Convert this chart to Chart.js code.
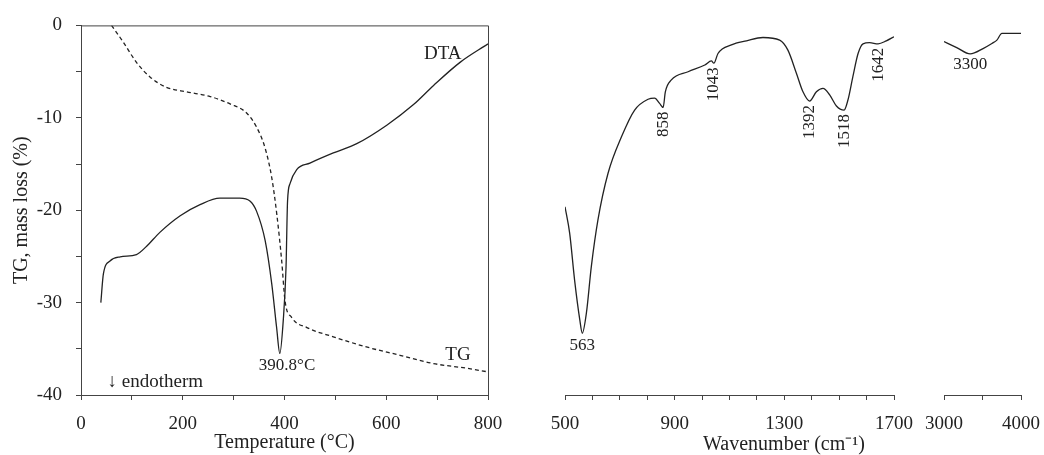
<!DOCTYPE html>
<html>
<head>
<meta charset="utf-8">
<script src="https://cdn.jsdelivr.net/npm/chart.js@4"></script>
<style>
  body { margin: 0; background: #fff; }
  #wrap { position: relative; width: 1044px; height: 455px; overflow: hidden; }
  canvas { position: absolute; top: 0; }
  #wnTitle {
    position: absolute; left: 784px; top: 443px; transform: translate(-50%, -50%);
    font: 20px "Liberation Serif", serif; line-height: 22px; color: #222; white-space: nowrap;
  }
</style>
</head>
<body>
<div id="wrap">
  <canvas id="tga" width="520" height="455" style="left:0"></canvas>
  <canvas id="ir1" width="410" height="455" style="left:520px"></canvas>
  <canvas id="ir2" width="124" height="455" style="left:920px"></canvas>
  <div id="wnTitle">Wavenumber (cm⁻¹)</div>
</div>
<script>
// TG / DTA
const tempDTA = [39, 44, 57, 77, 109, 129, 155, 195, 234, 273, 312, 332, 345, 362, 375, 384.5, 390.8, 397.6, 403, 406, 411, 424, 450, 496, 542, 601, 653, 693, 745, 800];
const dta     = [-30, -26.9, -25.5, -25.05, -24.8, -23.9, -22.4, -20.6, -19.4, -18.7, -18.7, -19.0, -20.1, -23.3, -28.0, -32.7, -35.5, -31.9, -26.2, -19.0, -17.1, -15.6, -14.9, -13.8, -12.8, -10.8, -8.6, -6.5, -4.0, -2.0];
const tempTG  = [60, 83, 109, 136, 168, 208, 254, 293, 326, 345, 362, 375, 385, 394.5, 401, 414, 444, 496, 561, 627, 693, 758, 800];
const tg      = [0, -1.8, -4.0, -5.6, -6.7, -7.2, -7.7, -8.5, -9.5, -11.0, -13.3, -16.5, -20.5, -25.5, -29.8, -31.6, -32.7, -33.7, -34.8, -35.7, -36.6, -37.1, -37.5];

// FTIR, 500-1700 cm-1
const wn1 = [500, 517, 535, 554, 563, 578, 596, 620, 657, 706, 754, 803, 827, 845, 858, 866, 888, 949, 1010, 1034, 1043, 1058, 1107, 1162, 1222, 1283, 1313, 1344, 1368, 1392, 1417, 1441, 1466, 1490, 1518, 1532, 1550, 1569, 1587, 1611, 1642, 1672, 1700];
const tr1 = [50.6, 43.5, 30.9, 20.2, 16.6, 22.0, 34.5, 47.0, 59.6, 69.4, 76.6, 79.5, 79.8, 78.4, 77.3, 81.5, 84.7, 86.9, 88.7, 89.8, 89.2, 91.8, 94.1, 95.2, 96.1, 95.4, 92.7, 86.5, 81.5, 79.0, 81.5, 82.4, 80.6, 77.7, 76.6, 79.3, 85.6, 91.8, 94.4, 94.7, 94.4, 95.2, 96.3];
// FTIR, 3000-4000 cm-1
const wn2 = [3000, 3165, 3340, 3513, 3622, 3687, 3752, 4000];
const tr2 = [95.0, 93.4, 91.7, 93.2, 94.5, 95.4, 97.2, 97.2];

const peaks1 = [563, 858, 1043, 1392, 1518, 1642];
const peaks1Rotated = [false, true, true, true, true, true];
const peak2At = 3340, peak2Text = '3300';

const FONT = '"Liberation Serif", serif';
const INK = '#222';
const AXIS = '#444';

const pts = (xs, ys) => xs.map((x, i) => ({ x, y: ys[i] }));

const textLabels = {
  id: 'textLabels',
  afterDatasetsDraw(chart, args, opts) {
    const { ctx, scales: { x, y } } = chart;
    ctx.save();
    ctx.fillStyle = INK;
    (opts.items || []).forEach(it => {
      ctx.font = `${it.size || 17}px ${FONT}`;
      ctx.save();
      ctx.translate(x.getPixelForValue(it.x), y.getPixelForValue(it.y) + (it.dy || 0));
      if (it.rotate) {
        ctx.rotate(-Math.PI / 2);
        ctx.textAlign = 'right';
      } else {
        ctx.textAlign = it.align || 'center';
      }
      ctx.textBaseline = 'middle';
      ctx.fillText(it.text, 0, 0);
      ctx.restore();
    });
    ctx.restore();
  }
};

const frame = {
  id: 'frame',
  afterDraw(chart, args, opts) {
    if (!opts.on) return;
    const { ctx, chartArea: a } = chart;
    ctx.save();
    ctx.strokeStyle = AXIS;
    ctx.lineWidth = 1;
    ctx.beginPath();
    ctx.moveTo(a.left, a.top + 0.5);
    ctx.lineTo(a.right + 0.5, a.top + 0.5);
    ctx.lineTo(a.right + 0.5, a.bottom);
    ctx.stroke();
    ctx.restore();
  }
};

function xAxis(min, max, step, showLabel, title) {
  return {
    type: 'linear', min, max,
    afterFit: s => { s.height = 60; s.paddingLeft = 0; s.paddingRight = 0; },
    border: { color: AXIS, width: 1 },
    grid: { drawOnChartArea: false, tickLength: 5, color: AXIS },
    ticks: {
      stepSize: step, autoSkip: false, maxRotation: 0, padding: 13,
      color: INK, font: { family: FONT, size: 19 },
      callback: v => showLabel(v) ? String(v) : ''
    },
    title: title ? { display: true, text: title, color: INK, font: { family: FONT, size: 20 }, padding: 0 } : { display: false }
  };
}

function line(data, dash) {
  return {
    data, borderColor: INK, borderWidth: 1.3, borderDash: dash || [],
    pointRadius: 0, cubicInterpolationMode: 'monotone', fill: false
  };
}

const common = {
  responsive: false,
  devicePixelRatio: 1,
  animation: false,
  events: [],
  plugins: { legend: { display: false }, tooltip: { enabled: false } }
};

new Chart(document.getElementById('tga'), {
  type: 'line',
  data: { datasets: [line(pts(tempDTA, dta)), line(pts(tempTG, tg), [4, 3])] },
  options: {
    ...common,
    layout: { padding: { top: 23, right: 32, left: 0, bottom: 0 } },
    scales: {
      x: xAxis(0, 800, 100, v => v % 200 === 0, 'Temperature (°C)'),
      y: {
        type: 'linear', min: -40, max: 0,
        afterFit: s => { s.width = 81; },
        border: { color: AXIS, width: 1 },
        grid: { drawOnChartArea: false, tickLength: 5, color: AXIS },
        ticks: {
          stepSize: 5, padding: 14, color: INK, font: { family: FONT, size: 19 },
          callback: v => v % 10 === 0 ? String(v) : ''
        },
        title: { display: true, text: 'TG, mass loss (%)', color: INK, font: { family: FONT, size: 20 }, padding: 10 }
      }
    },
    plugins: {
      ...common.plugins,
      frame: { on: true },
      textLabels: {
        items: [
          { x: 711, y: -3.1, text: 'DTA', size: 19 },
          { x: 741, y: -35.7, text: 'TG', size: 19 },
          { x: 405, y: -35.5, dy: 12, text: '390.8°C', size: 17 },
          { x: 146, y: -38.6, text: '↓ endotherm', size: 19 }
        ]
      }
    }
  },
  plugins: [frame, textLabels]
});

new Chart(document.getElementById('ir1'), {
  type: 'line',
  data: { datasets: [line(pts(wn1, tr1))] },
  options: {
    ...common,
    layout: { padding: { top: 23, right: 36, left: 45, bottom: 0 } },
    scales: {
      x: xAxis(500, 1700, 100, v => (v - 500) % 400 === 0),
      y: { type: 'linear', min: 0, max: 100, display: false }
    },
    plugins: {
      ...common.plugins,
      textLabels: {
        items: peaks1.map((p, i) => ({
          x: p, y: tr1[wn1.indexOf(p)], text: String(p), size: 17,
          rotate: peaks1Rotated[i], dy: peaks1Rotated[i] ? 4 : 12
        }))
      }
    }
  },
  plugins: [textLabels]
});

new Chart(document.getElementById('ir2'), {
  type: 'line',
  data: { datasets: [line(pts(wn2, tr2))] },
  options: {
    ...common,
    layout: { padding: { top: 23, right: 23, left: 24, bottom: 0 } },
    scales: {
      x: xAxis(3000, 4000, 500, v => v === 3000 || v === 4000),
      y: { type: 'linear', min: 0, max: 100, display: false }
    },
    plugins: {
      ...common.plugins,
      textLabels: {
        items: [{ x: peak2At, y: tr2[wn2.indexOf(peak2At)], dy: 11, text: peak2Text, size: 17 }]
      }
    }
  },
  plugins: [textLabels]
});
</script>
</body>
</html>
